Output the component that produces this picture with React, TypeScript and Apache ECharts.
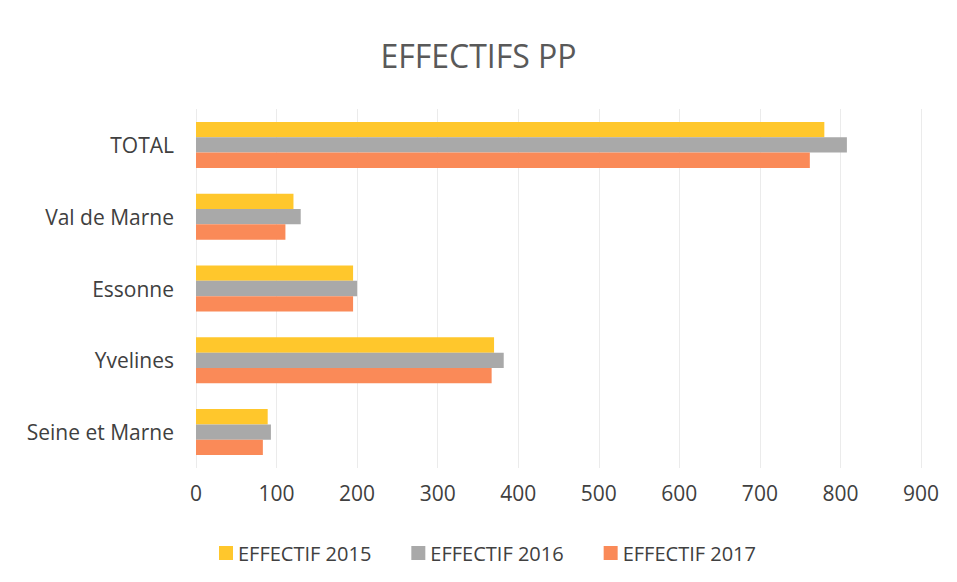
import React, { useEffect, useRef } from "react";
import * as echarts from "echarts";

const categories = ["Seine et Marne", "Yvelines", "Essonne", "Val de Marne", "TOTAL"];
const values2015 = [89, 370, 195, 121, 780];
const values2016 = [93, 382, 200, 130, 808];
const values2017 = [83, 367, 195, 111, 762];
const xTicks = { min: 0, max: 900, interval: 100 };
const title = "EFFECTIFS PP";
const seriesNames = ["EFFECTIF 2015", "EFFECTIF 2016", "EFFECTIF 2017"];

const FONT = "'Open Sans', 'Noto Sans', sans-serif";

export default function App() {
  const ref = useRef<HTMLDivElement>(null);
  useEffect(() => {
    if (!ref.current) return;
    const chart = echarts.init(ref.current, undefined, { renderer: "svg" });
    chart.setOption({
      animation: false,
      backgroundColor: "#ffffff",
      title: {
        text: title,
        left: "center",
        top: 34,
        textStyle: { fontFamily: FONT, fontSize: 32, fontWeight: "normal", color: "#595959" },
      },
      legend: {
        data: seriesNames,
        left: 214,
        top: 538,
        itemWidth: 14,
        itemHeight: 14,
        itemGap: 40,
        icon: "rect",
        textStyle: { fontFamily: FONT, fontSize: 20, color: "#404040" },
      },
      grid: { left: 196, right: 36, top: 109, bottom: 114, containLabel: false },
      xAxis: {
        type: "value",
        min: xTicks.min,
        max: xTicks.max,
        interval: xTicks.interval,
        axisLine: { show: false },
        axisTick: { show: false },
        splitLine: { show: true, lineStyle: { color: "#ebebeb", width: 1 } },
        axisLabel: { fontFamily: FONT, fontSize: 21, color: "#404040", margin: 14 },
      },
      yAxis: {
        type: "category",
        data: categories,
        axisLine: { show: false },
        axisTick: { show: false },
        axisLabel: { fontFamily: FONT, fontSize: 21, color: "#404040", margin: 22 },
      },
      series: [
        {
          name: seriesNames[0],
          type: "bar",
          data: values2015,
          itemStyle: { color: "#ffc72c" },
          barGap: "0%",
          barCategoryGap: "36%",
        },
        {
          name: seriesNames[1],
          type: "bar",
          data: values2016,
          itemStyle: { color: "#a9a9a9" },
          barGap: "0%",
          barCategoryGap: "36%",
        },
        {
          name: seriesNames[2],
          type: "bar",
          data: values2017,
          itemStyle: { color: "#fa8a58" },
          barGap: "0%",
          barCategoryGap: "36%",
        },
      ],
    });
    return () => chart.dispose();
  }, []);
  return (
    <div
      ref={ref}
      style={{ position: "fixed", left: 0, top: 0, width: 957, height: 582 }}
    />
  );
}
